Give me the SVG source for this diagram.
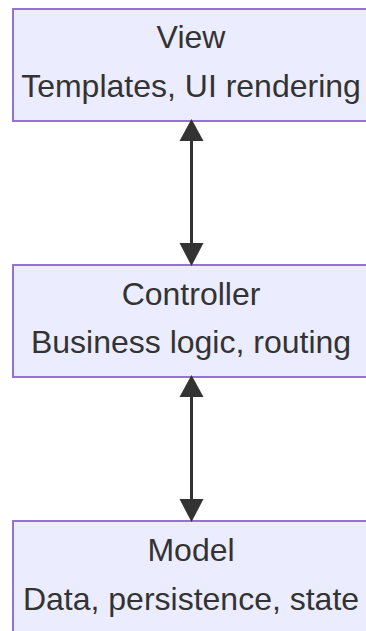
<svg xmlns="http://www.w3.org/2000/svg" width="366" height="631" viewBox="0 0 366 631">
<style>
.box{fill:#ECECFF;stroke:#9370DB;stroke-width:2}
.t{font-family:"Liberation Sans",Arial,sans-serif;font-size:32px;fill:#333;text-anchor:middle}
.edge{stroke:#333;stroke-width:3;fill:none}
.head{fill:#333}
</style>
<rect width="366" height="631" fill="#fff"/>
<g id="view">
<rect class="box" x="13" y="9" width="358" height="112"/>
<text class="t" x="191" y="48">View</text>
<text class="t" x="191" y="97">Templates, UI rendering</text>
</g>
<g id="controller">
<rect class="box" x="13" y="265" width="358" height="112"/>
<text class="t" x="191" y="305">Controller</text>
<text class="t" x="191" y="353">Business logic, routing</text>
</g>
<g id="model">
<rect class="box" x="13" y="521" width="358" height="112"/>
<text class="t" x="191" y="561">Model</text>
<text class="t" x="191" y="610">Data, persistence, state</text>
</g>
<g id="connectors">
<line class="edge" x1="191.5" y1="140" x2="191.5" y2="244"/>
<polygon class="head" points="191.5,119 203.5,141 179.5,141"/>
<polygon class="head" points="191.5,266 203.5,243 179.5,243"/>
<line class="edge" x1="191.5" y1="396" x2="191.5" y2="500"/>
<polygon class="head" points="191.5,375 203.5,397 179.5,397"/>
<polygon class="head" points="191.5,522 203.5,499 179.5,499"/>
</g>
</svg>
